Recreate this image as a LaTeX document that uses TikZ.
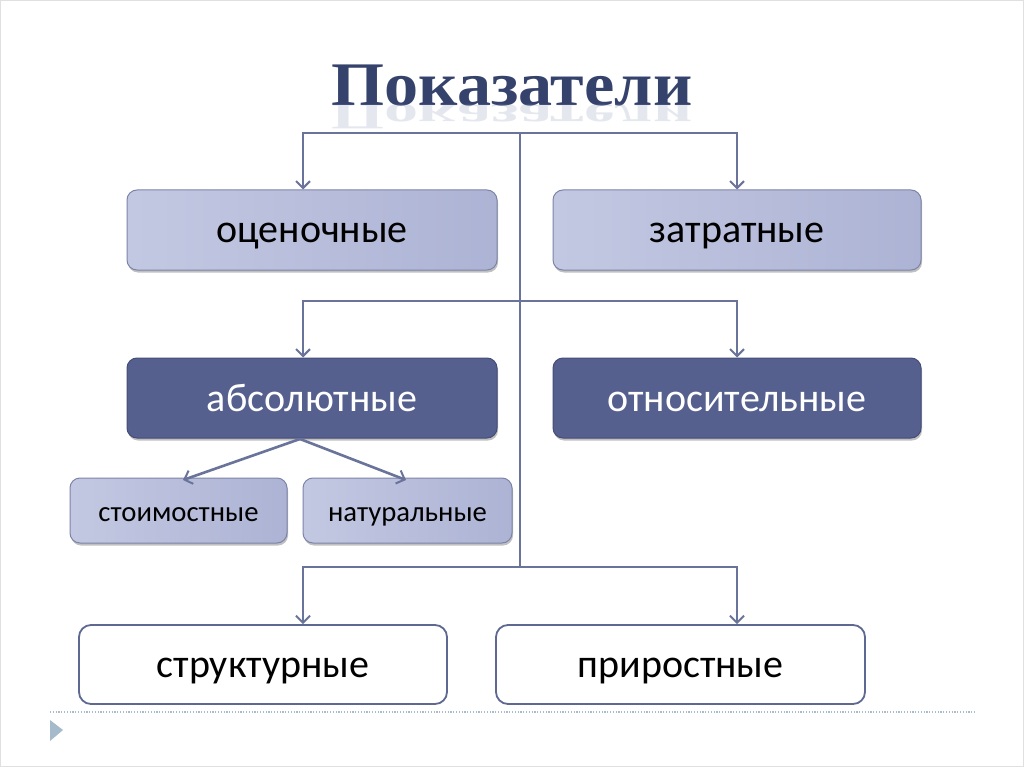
\documentclass[tikz,border=0pt]{standalone}
\usepackage{fontspec}
\setmainfont{Carlito}
\newfontfamily\titlefont{Liberation Serif}
\usetikzlibrary{arrows.meta,shadows,calc}
\definecolor{linec}{HTML}{6A7399}
\definecolor{lightA}{HTML}{C3C8E2}
\definecolor{lightB}{HTML}{ADB3D4}
\definecolor{lightD}{HTML}{7D84A8}
\definecolor{darkA}{HTML}{6974A4}
\definecolor{darkB}{HTML}{56608E}
\definecolor{darkD}{HTML}{454E78}
\definecolor{whiteD}{HTML}{5E6890}
\definecolor{titleA}{HTML}{35426C}
\definecolor{titleB}{HTML}{7F8BB0}
\definecolor{dotc}{HTML}{A9BCCC}
\definecolor{tric}{HTML}{A5BACB}
\tikzset{
  conn/.style={draw=linec, line width=2.6pt, -{Straight Barb[length=7pt,width=14pt,line width=2pt]}},
  plain/.style={draw=linec, line width=2.6pt},
  shad/.style={drop shadow={shadow xshift=1pt, shadow yshift=-2.5pt, opacity=0.35, fill=black!70}},
  lightbox/.style={shad, rounded corners=10pt, draw=lightD, line width=1pt, left color=lightA, right color=lightB, text=black, inner sep=0pt},
  darkbox/.style={shad, rounded corners=10pt, draw=darkD, line width=1pt, left color=darkB, middle color=darkA, right color=darkB, text=white, inner sep=0pt},
  whitebox/.style={rounded corners=12pt, draw=whiteD, line width=1.8pt, fill=white, text=black, inner sep=0pt},
  big/.style={font=\fontsize{40}{48}\selectfont, text height=26pt, text depth=0pt},
  small/.style={font=\fontsize{28.7}{34}\selectfont, text height=22pt, text depth=0pt},
}
\begin{document}
\begin{tikzpicture}[x=1pt,y=-1pt]
\useasboundingbox (0,0) rectangle (1024,767);
\fill[white] (0,0) rectangle (1024,767);
\draw[black!12, line width=0.8pt] (0.5,0.5) rectangle (1023.5,766.5);
% title
\node[inner sep=0pt, font=\titlefont\bfseries\fontsize{62}{70}\selectfont, text=titleA] (title) at (512,86) {\scalebox{1.1}[1]{Показатели}};
\node[inner sep=0pt, opacity=0.2, font=\titlefont\bfseries\fontsize{62}{70}\selectfont, text=titleB, anchor=north] (refl) at (512,104) {\scalebox{1.1}[-0.6]{Показатели}};
% boxes
\node[lightbox, big, minimum width=370pt, minimum height=80pt] (ocen) at (312,230) {оценочные};
\node[lightbox, big, minimum width=368pt, minimum height=80pt] (zatr) at (737,230) {затратные};
\node[darkbox, big, minimum width=370pt, minimum height=80pt] (abs) at (312,398) {абсолютные};
\node[darkbox, big, minimum width=368pt, minimum height=80pt] (otn) at (737,398) {относительные};
\node[lightbox, small, minimum width=217pt, minimum height=65pt] (stoim) at (178.5,510.5) {стоимостные};
\node[lightbox, small, minimum width=209pt, minimum height=65pt] (nat) at (407.5,510.5) {натуральные};
\node[whitebox, big, minimum width=368pt, minimum height=79pt] (strukt) at (263,664.5) {структурные};
\node[whitebox, big, minimum width=369pt, minimum height=79pt] (prir) at (680.5,664.5) {приростные};
% junction coordinates
\coordinate (t1) at (520,133);
\coordinate (t2) at (520,301);
\coordinate (t3) at (520,567);
\coordinate (xl) at (303,0);
\coordinate (xr) at (737,0);
\coordinate (absb) at (300,439);
% connectors
\draw[plain] (t1) -- (t3);
\draw[conn] (t1) -| (xl |- ocen.north);
\draw[conn] (t1) -| (xr |- zatr.north);
\draw[conn] (t2) -| (xl |- abs.north);
\draw[conn] (t2) -| (xr |- otn.north);
\draw[conn] (t3) -| (xl |- strukt.north);
\draw[conn] (t3) -| (xr |- prir.north);
\draw[conn] (absb) -- (183,480);
\draw[conn] (absb) -- (406,480);
% footer
\draw[dotc, line width=1.2pt, dash pattern=on 1.2pt off 1.6pt] (50,712) -- (975,712);
\fill[tric] (50,720) -- (63,730) -- (50,741) -- cycle;
\end{tikzpicture}
\end{document}
